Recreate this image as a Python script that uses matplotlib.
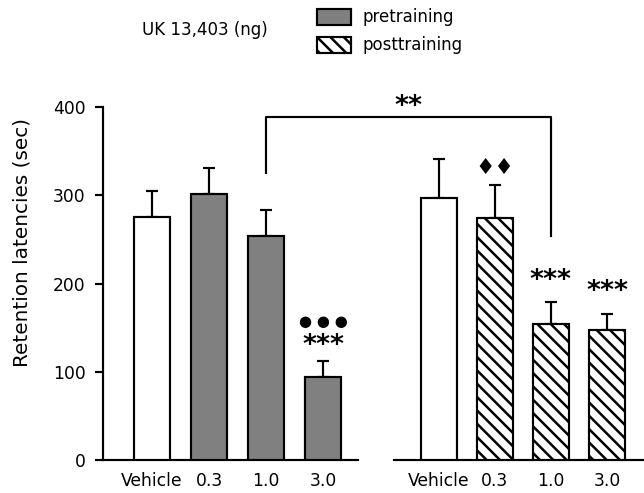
import matplotlib
matplotlib.use('Agg')
import matplotlib.pyplot as plt
import matplotlib.patches as patches
from matplotlib.lines import Line2D
import numpy as np

# data (sec)
doses = ['Vehicle', '0.3', '1.0', '3.0']
pre_means = [276, 302, 254, 94]
pre_sem = [29, 29, 29, 18]
post_means = [297, 275, 154, 147]
post_sem = [44, 37, 25, 19]
y_ticks = [0, 100, 200, 300, 400]

# significance marks: (dose index, text, y position)
pre_marks = [(3, '***', 129), (3, '\u25cf \u25cf \u25cf', 157)]
post_marks = [(1, '\u2666\u2666', 331), (2, '***', 203), (3, '***', 191)]
bracket_y = [325, 389, 389, 254]

W, H, DPI = 644, 493, 120
plt.rcParams['font.family'] = ['DejaVu Sans']
plt.rcParams['hatch.linewidth'] = 1.5
GRAY = '#808080'
HATCH = '\\\\\\'


def px_box(x0, y0, x1, y1):
    return [x0 / W, 1 - y1 / H, (x1 - x0) / W, (y1 - y0) / H]


fig = plt.figure(figsize=(W / DPI, H / DPI), dpi=DPI)
ax1 = fig.add_axes(px_box(103, 107.3, 358, 460))
ax2 = fig.add_axes(px_box(394, 107.3, 644, 460))

x = np.arange(len(doses))
pre_colors = ['white'] + [GRAY] * 3
post_hatch = [''] + [HATCH] * 3

ax1.bar(x, pre_means, width=0.63, color=pre_colors, edgecolor='black', linewidth=1.3, zorder=3)
bars = ax2.bar(x, post_means, width=0.63, color='white', edgecolor='black', linewidth=1.3, zorder=3)
for b, h in zip(bars, post_hatch):
    b.set_hatch(h)

for ax, m, s in [(ax1, pre_means, pre_sem), (ax2, post_means, post_sem)]:
    ax.errorbar(x, m, yerr=[np.zeros(len(m)), s], fmt='none', ecolor='black',
                elinewidth=1.3, capsize=3.6, capthick=1.3, zorder=2)
    ax.set_ylim(0, 400)
    ax.set_xticks(x)
    ax.set_xticklabels(doses, fontsize=10.3)
    ax.tick_params(axis='x', length=0, pad=7)
    for sp in ['top', 'right']:
        ax.spines[sp].set_visible(False)
    ax.spines['bottom'].set_linewidth(1.3)
    ax.spines['left'].set_linewidth(1.3)

ax1.set_xlim(-0.86, 3.61)
ax2.set_xlim(-0.80, 3.66)

ax1.set_yticks(y_ticks)
ax1.tick_params(axis='y', direction='out', length=4.8, width=1.3, labelsize=10.3, pad=5.5)
ax1.set_ylabel('Retention latencies (sec)', fontsize=12)
ax1.yaxis.set_label_coords(-0.28, 0.617)

ax2.spines['left'].set_visible(False)
ax2.set_yticks([])

for ax, marks in [(ax1, pre_marks), (ax2, post_marks)]:
    for i, txt, yv in marks:
        if txt == '***':
            ax.text(i, yv, txt, ha='center', va='center', fontsize=16, fontweight='bold')
        elif txt.startswith('\u2666'):
            ax.text(i, yv, txt, ha='center', va='center', fontsize=13)
        else:
            ax.text(i, yv, txt, ha='center', va='center', fontsize=9)


def to_fig(ax, xv, yv):
    return fig.transFigure.inverted().transform(ax.transData.transform((xv, yv)))


p0 = to_fig(ax1, 2, bracket_y[0])
p1 = to_fig(ax1, 2, bracket_y[1])
p2 = to_fig(ax2, 2, bracket_y[2])
p3 = to_fig(ax2, 2, bracket_y[3])
fig.add_artist(Line2D([p0[0], p1[0], p2[0], p3[0]], [p0[1], p1[1], p2[1], p3[1]],
                      transform=fig.transFigure, color='black', lw=1.3))
top = to_fig(ax1, 2, 400)
fig.text((p1[0] + p2[0]) / 2, top[1], '**', ha='center', va='center', fontsize=16, fontweight='bold')

# header and legend
fig.text(142 / W, 1 - 30 / H, 'UK 13,403 (ng)', ha='left', va='center', fontsize=10)
fig.add_artist(patches.Rectangle((317 / W, 1 - 25 / H), 34 / W, 16 / H, transform=fig.transFigure,
                                 facecolor=GRAY, edgecolor='black', lw=1.3))
fig.add_artist(patches.Rectangle((317 / W, 1 - 53 / H), 34 / W, 16 / H, transform=fig.transFigure,
                                 facecolor='white', edgecolor='black', lw=1.3, hatch=HATCH))
fig.text(362 / W, 1 - 17 / H, 'pretraining', ha='left', va='center', fontsize=10)
fig.text(362 / W, 1 - 45 / H, 'posttraining', ha='left', va='center', fontsize=10)

fig.savefig('out.png', dpi=DPI)
